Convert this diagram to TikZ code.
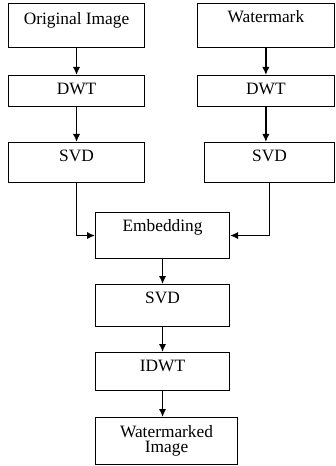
\documentclass[tikz,border=0pt]{standalone}
\usepackage{fontspec}
\setmainfont{Liberation Serif}
\usetikzlibrary{arrows.meta}

\tikzset{
  blk/.style={draw, line width=0.8pt, inner ysep=0pt, anchor=north west,
    font=\fontsize{13}{15}\selectfont, text height=14pt, text depth=#1},
  arr/.style={line width=1.1pt, -{Latex[length=6pt,width=5.5pt]}}
}

\begin{document}
\begin{tikzpicture}[x=0.75pt,y=-0.75pt]
  \useasboundingbox (0,0) rectangle (335,466);
  % inputs
  \node[blk=17.5pt, text height=15.5pt, minimum width=102pt] (orig) at (8,3) {Original Image};
  \node[blk=19pt, minimum width=102.5pt] (wm) at (197,3) {Watermark};
  % DWT
  \node[blk=9.25pt, minimum width=102pt] (dwtl) at (8,75) {DWT};
  \node[blk=9.25pt, minimum width=102.5pt] (dwtr) at (197,75) {DWT};
  % SVD
  \node[blk=16pt, minimum width=102pt] (svdl) at (8,142) {SVD};
  \node[blk=16pt, minimum width=97.5pt] (svdr) at (204,142) {SVD};
  % embedding and back
  \node[blk=20.5pt, minimum width=100.5pt] (emb) at (95,212) {Embedding};
  \node[blk=17.5pt, minimum width=100.5pt] (svdm) at (95,284) {SVD};
  \node[blk=14.5pt, minimum width=100.5pt] (idwt) at (95,352) {IDWT};
  \node[draw, line width=0.8pt, anchor=north west, align=center,
    font=\fontsize{13}{11.5}\selectfont, minimum width=106.5pt, minimum height=35.25pt]
    (out) at (95,417) {Watermarked\\Image};

  \draw[arr] (orig.south) -- (dwtl.north);
  \draw[arr] (dwtl.south) -- (svdl.north);
  \draw[arr] (wm.south) -- (wm.south |- dwtr.north);
  \draw[arr] (dwtr.south) -- (dwtr.south |- svdr.north);
  \draw[arr] (svdl.south) |- (emb.west);
  \draw[arr] (svdr.south) |- (emb.east);
  \draw[arr] (emb.south) -- (svdm.north);
  \draw[arr] (svdm.south) -- (idwt.north);
  \draw[arr] (idwt.south) -- (idwt.south |- out.north);
\end{tikzpicture}
\end{document}
